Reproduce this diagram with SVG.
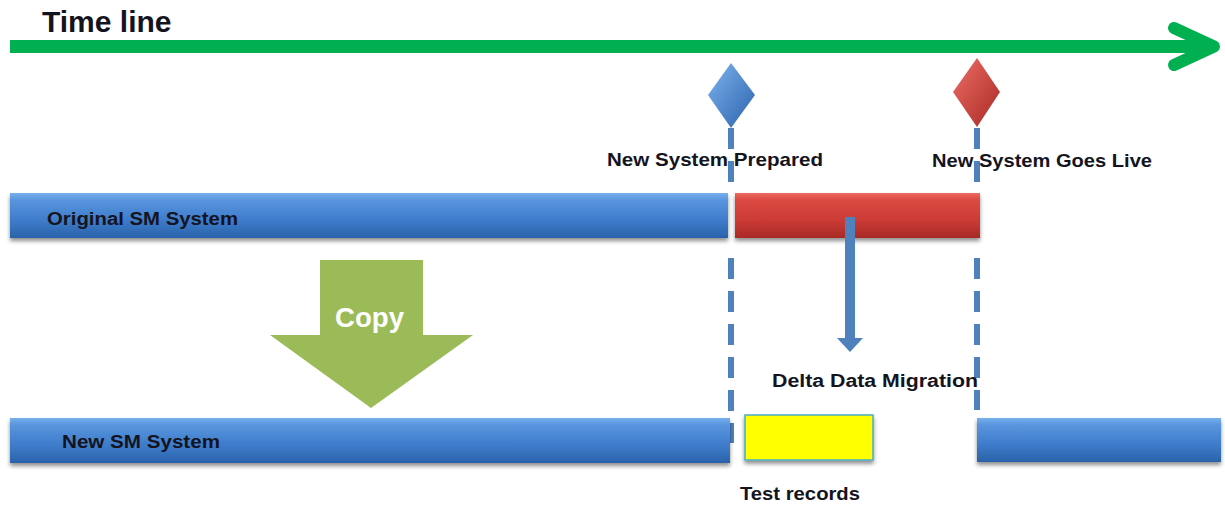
<svg xmlns="http://www.w3.org/2000/svg" width="1225" height="506" viewBox="0 0 1225 506">
<defs>
<linearGradient id="gBlue" x1="0" y1="0" x2="0" y2="1">
<stop offset="0" stop-color="#78B0EC"/>
<stop offset="0.15" stop-color="#5A96DE"/>
<stop offset="0.6" stop-color="#3E7CCB"/>
<stop offset="1" stop-color="#2A62AA"/>
</linearGradient>
<linearGradient id="gRed" x1="0" y1="0" x2="0" y2="1">
<stop offset="0" stop-color="#EC6A62"/>
<stop offset="0.15" stop-color="#DB4A42"/>
<stop offset="0.6" stop-color="#CC3B35"/>
<stop offset="1" stop-color="#A82A26"/>
</linearGradient>
<linearGradient id="gDiaB" x1="0" y1="0" x2="1" y2="1">
<stop offset="0" stop-color="#7DB3EE"/>
<stop offset="1" stop-color="#2C63AC"/>
</linearGradient>
<linearGradient id="gDiaR" x1="0" y1="0" x2="1" y2="1">
<stop offset="0" stop-color="#EE6F66"/>
<stop offset="1" stop-color="#A82824"/>
</linearGradient>
<filter id="sh" x="-5%" y="-20%" width="110%" height="160%">
<feGaussianBlur in="SourceAlpha" stdDeviation="2"/>
<feOffset dx="0" dy="3" result="b"/>
<feComponentTransfer><feFuncA type="linear" slope="0.45"/></feComponentTransfer>
<feMerge><feMergeNode/><feMergeNode in="SourceGraphic"/></feMerge>
</filter>
</defs>
<style>
.bar{filter:url(#sh)}
.lbl{font-family:"Liberation Sans",Arial,sans-serif;font-weight:bold;fill:#14141e}
.dash{stroke:#4F81BD;stroke-width:6;stroke-dasharray:21 12;fill:none}
</style>

<g id="timeline">
<text class="lbl" x="42" y="32" font-size="30">Time line</text>
<rect x="10" y="40" width="1200" height="13" fill="#00B050"/>
<polyline points="1174,28 1214,46.5 1174,65" fill="none" stroke="#00B050" stroke-width="12" stroke-linecap="round" stroke-linejoin="round"/>
</g>

<g id="connectors">
<line class="dash" x1="731" y1="128" x2="731" y2="190"/>
<line class="dash" x1="731" y1="258" x2="731" y2="443" stroke-dasharray="21 12"/>
<line class="dash" x1="977" y1="128" x2="977" y2="190"/>
<line class="dash" x1="977" y1="258" x2="977" y2="410"/>
</g>

<g id="milestone-prepared">
<polygon points="731,63 755,95 731,128 708,95" fill="url(#gDiaB)"/>
<text class="lbl" x="607" y="166" font-size="19" textLength="216" lengthAdjust="spacingAndGlyphs">New System Prepared</text>
</g>

<g id="milestone-live">
<polygon points="977,58 1000,92 977,127 953,92" fill="url(#gDiaR)"/>
<text class="lbl" x="932" y="167" font-size="19" textLength="220" lengthAdjust="spacingAndGlyphs">New System Goes Live</text>
</g>

<g id="original-system">
<rect class="bar" x="10" y="193" width="718" height="45" fill="url(#gBlue)"/>
<text class="lbl" x="47" y="225" font-size="18" textLength="191" lengthAdjust="spacingAndGlyphs">Original SM System</text>
</g>

<g id="delta-period">
<rect class="bar" x="735" y="193" width="245" height="45" fill="url(#gRed)"/>
</g>

<g id="delta-migration">
<line x1="850" y1="217" x2="850" y2="340" stroke="#4F81BD" stroke-width="10"/>
<polygon points="837,338 863,338 850,352" fill="#4F81BD"/>
<text class="lbl" x="772" y="387" font-size="18" textLength="206" lengthAdjust="spacingAndGlyphs">Delta Data Migration</text>
</g>

<g id="copy">
<polygon points="320,260 423,260 423,335 473,335 371,408 270,335 320,335" fill="#9BBB59"/>
<text x="335" y="327" font-family="Liberation Sans,Arial,sans-serif" font-weight="bold" font-size="27" fill="#FFFFFF" textLength="69" lengthAdjust="spacingAndGlyphs">Copy</text>
</g>

<g id="new-system">
<rect class="bar" x="10" y="418" width="720" height="45" fill="url(#gBlue)"/>
<text class="lbl" x="62" y="448" font-size="18" textLength="158" lengthAdjust="spacingAndGlyphs">New SM System</text>
</g>

<g id="test-records">
<rect class="bar" x="745" y="415" width="128" height="45" fill="#FFFF00" stroke="#4BACC6" stroke-width="1.5"/>
<text class="lbl" x="740" y="500" font-size="18" textLength="120" lengthAdjust="spacingAndGlyphs">Test records</text>
</g>

<g id="new-system-live">
<rect class="bar" x="977" y="418" width="244" height="44" fill="url(#gBlue)"/>
</g>
</svg>
